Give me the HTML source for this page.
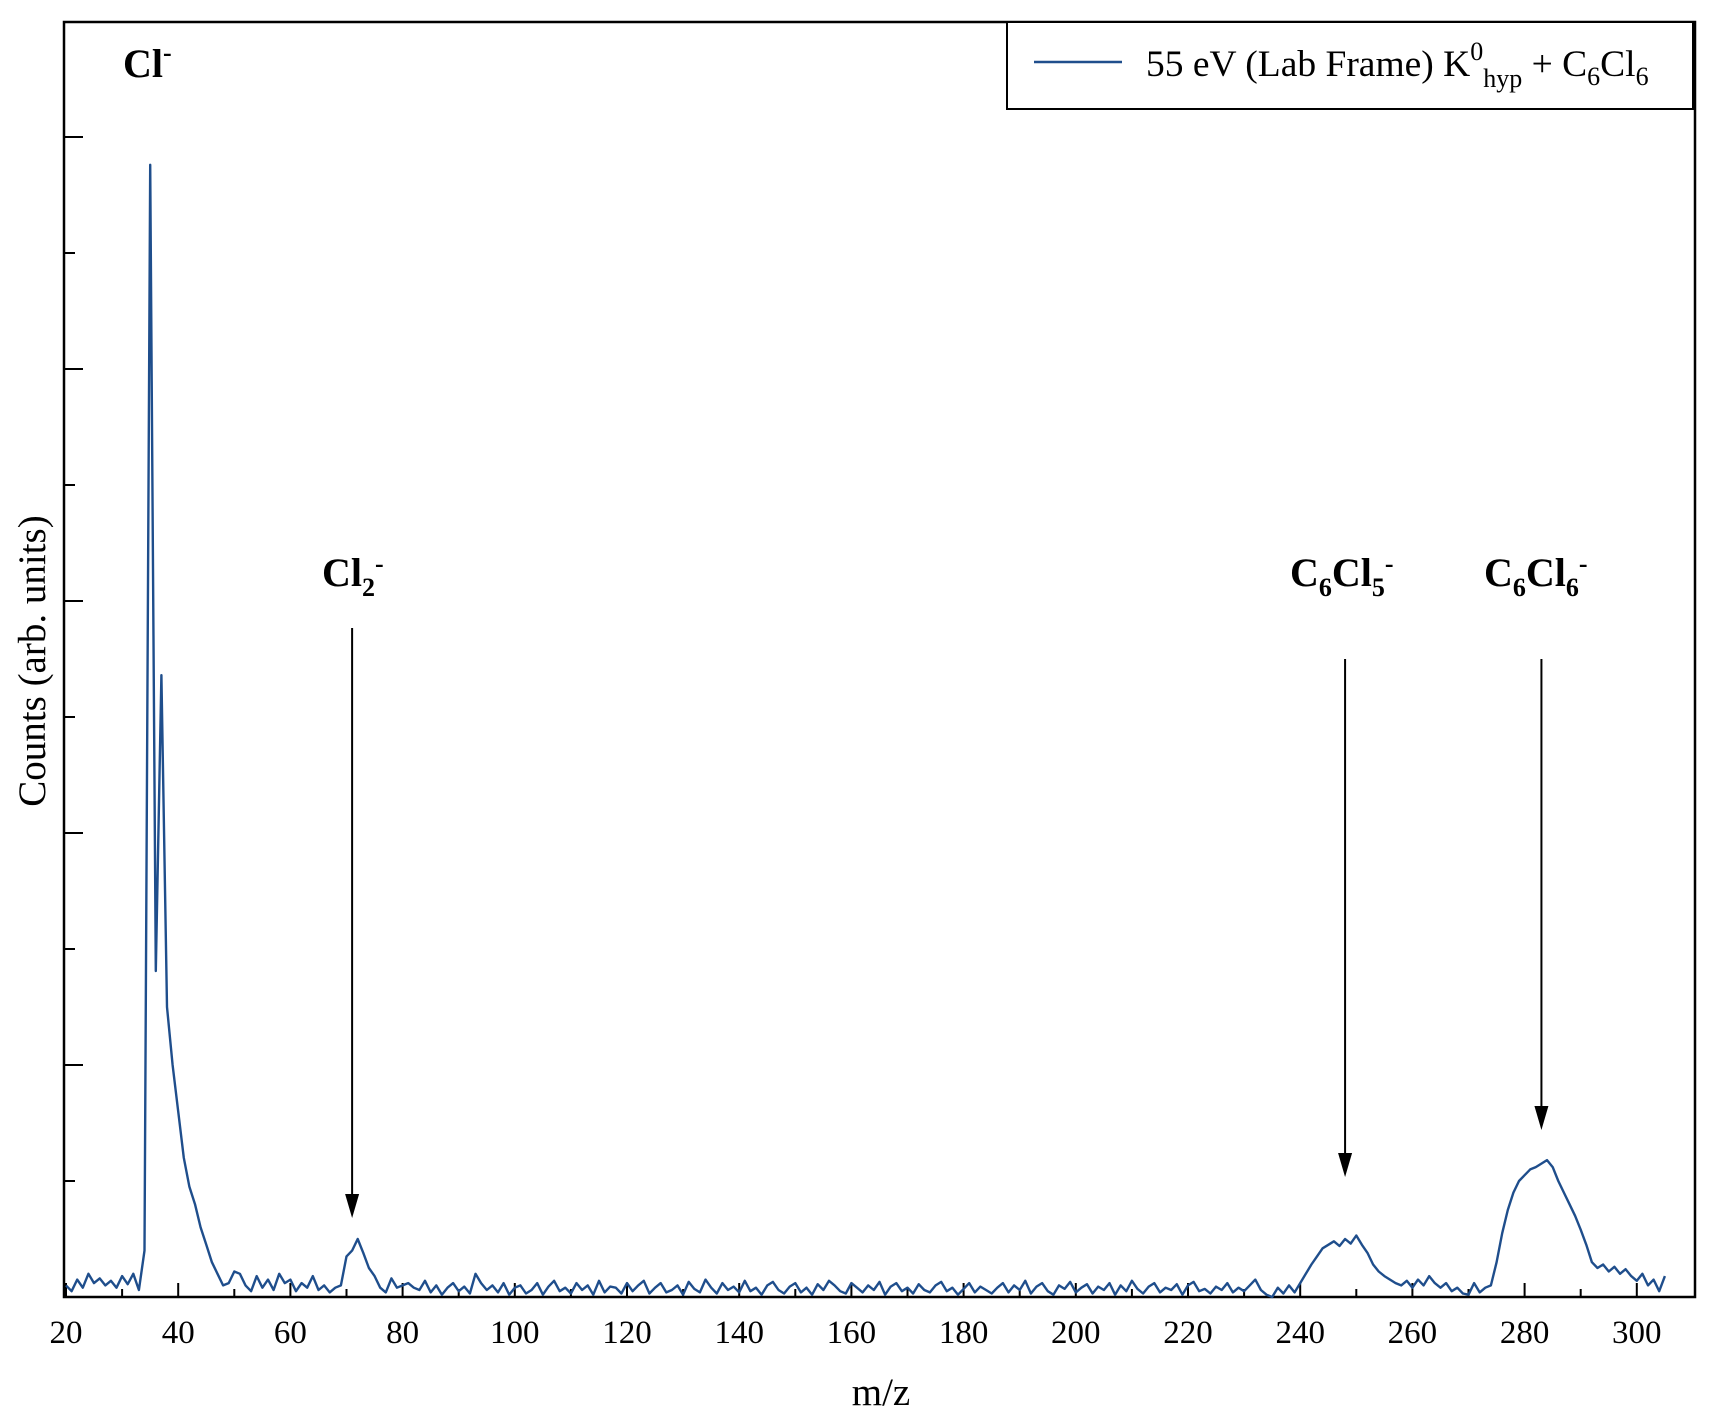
<!DOCTYPE html>
<html><head><meta charset="utf-8"><style>
html,body{margin:0;padding:0;background:#fff;}
svg{display:block;font-family:"Liberation Serif",serif;}
</style></head><body>
<svg id="chart" width="1712" height="1420" viewBox="0 0 1712 1420">
<g id="axes"></g>
<path id="series" fill="none" stroke="#1f4e8c" stroke-width="2.4" stroke-linejoin="round"></path>
<g id="annot"></g>
<g>
<rect x="1007" y="22" width="686" height="87" fill="#fff" stroke="#000" stroke-width="2"/>
<line x1="1034" y1="62" x2="1122" y2="62" stroke="#1f4e8c" stroke-width="2.4"/>
<text x="1146" y="76" font-size="37.5">55 eV (Lab Frame) K<tspan font-size="26" dy="-16">0</tspan><tspan font-size="26" dy="27">hyp</tspan><tspan dy="-11"> + C</tspan><tspan font-size="26" dy="9">6</tspan><tspan dy="-9">Cl</tspan><tspan font-size="26" dy="9">6</tspan></text>
</g>
<text transform="translate(45,661) rotate(-90)" text-anchor="middle" font-size="39">Counts (arb. units)</text>
<text x="881" y="1405" text-anchor="middle" font-size="39">m/z</text>
</svg>
<script>
const mzStart = 20;
const counts = [
10,5,15,8,20,12,16,10,14,8,18,11,20,6,
40,976,281,536,250,200,160,120,95,80,60,45,30,20,10,12,22,20,10,5,18,8,15,6,20,12,15,5,12,8,18,6,10,4,8,10,35,40,50,38,25,18,8,4,16,8,10,
12,8,6,14,4,10,2,8,12,5,9,3,20,12,6,10,4,12,2,8,10,3,6,12,2,9,14,5,8,3,12,6,10,2,14,4,9,8,3,12,5,10,14,3,8,12,4,6,10,2,13,7,4,15,8,3,12,6,9,4,14,5,8,2,10,13,6,3,9,12,4,8,2,11,6,14,10,5,3,12,8,4,10,6,13,2,9,12,5,8,3,11,6,4,10,13,5,8,2,7,12,4,9,6,3,
8,12,4,10,6,14,3,9,12,5,2,10,7,13,4,8,11,3,9,6,12,2,10,5,14,7,3,9,12,4,8,6,11,2,10,13,5,7,3,9,6,12,4,8,
5,10,15,6,2,0,8,3,10,4,12,
20,28,35,42,45,48,44,50,46,53,45,38,28,22,18,15,12,10,14,8,15,10,18,12,8,12,5,8,3,2,12,4,8,10,30,55,75,90,100,105,110,112,115,118,112,100,90,80,70,58,45,30,25,28,22,26,20,24,18,14,20,10,15,5,18
];
const xTicks = [20,40,60,80,100,120,140,160,180,200,220,240,260,280,300];
const annLabels = ["Cl2-","C6Cl5-","C6Cl6-"];
const annMz = [71,248,283];
const annTop = [628,659,659];
const annTip = [1218,1177,1130];

const NS="http://www.w3.org/2000/svg";
const L=64,R=1695,T=22,B=1297;
function xs(m){return 66+(m-20)*5.61;}
function ys(v){return B-v/100*116;}
function mk(tag,attrs,parent){const e=document.createElementNS(NS,tag);for(const k in attrs)e.setAttribute(k,attrs[k]);parent.appendChild(e);return e;}
const axes=document.getElementById('axes');
const frame=mk('rect',{x:L,y:T,width:R-L,height:B-T,fill:'none',stroke:'#000','stroke-width':2.5},axes);


for(let m=20;m<=305;m+=10){
  const major=m%20===0;
  const t=mk('line',{x1:xs(m),x2:xs(m),y1:B,y2:B-(major?14:8),stroke:'#000','stroke-width':2},axes);
  
  
}
xTicks.forEach(v=>{
  const t=mk('text',{x:xs(v),y:1343,'text-anchor':'middle','font-size':33},axes);
  t.textContent=v;
  
  
});
for(let k=1;k<=10;k++){
  const y=B-k*116;
  const t=mk('line',{x1:L,x2:L+(k%2===0?19:11),y1:y,y2:y,stroke:'#000','stroke-width':2},axes);
  
  
}
let d='';
counts.forEach((v,i)=>{d+=(i?'L':'M')+xs(mzStart+i).toFixed(1)+' '+ys(v).toFixed(1);});
document.getElementById('series').setAttribute('d',d);

const ann=document.getElementById('annot');
const cl=mk('text',{x:123,y:77,'font-size':40,'font-weight':'bold'},ann);
cl.innerHTML='Cl<tspan font-size="26" dy="-16">-</tspan>';


const labelHTML=['Cl<tspan font-size="26" dy="10">2</tspan><tspan font-size="26" dy="-24">-</tspan>',
'C<tspan font-size="26" dy="10">6</tspan><tspan dy="-10">Cl</tspan><tspan font-size="26" dy="10">5</tspan><tspan font-size="26" dy="-24">-</tspan>',
'C<tspan font-size="26" dy="10">6</tspan><tspan dy="-10">Cl</tspan><tspan font-size="26" dy="10">6</tspan><tspan font-size="26" dy="-24">-</tspan>'];
const labelX=[322,1290,1484];
const labelY=[586,586,586];
annLabels.forEach((n,i)=>{
  const x=xs(annMz[i]);
  const ln=mk('line',{x1:x,x2:x,y1:annTop[i],y2:annTip[i]-18,stroke:'#000','stroke-width':2},ann);
  
  
  const hd=mk('polygon',{points:`${x-7},${annTip[i]-24} ${x+7},${annTip[i]-24} ${x},${annTip[i]}`,fill:'#000'},ann);
  
  
  const tx=mk('text',{x:labelX[i],y:labelY[i],'font-size':40,'font-weight':'bold'},ann);
  tx.innerHTML=labelHTML[i];
  
  
});
</script>
</body></html>
